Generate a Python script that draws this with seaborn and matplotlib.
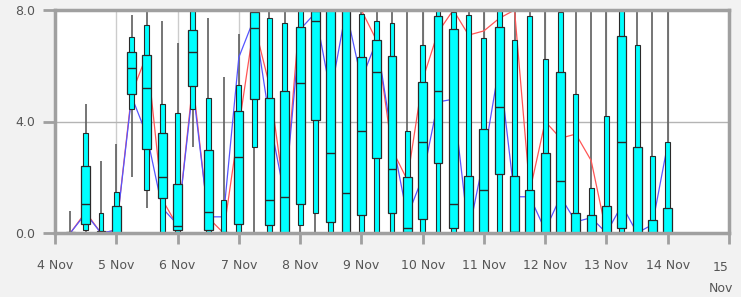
import numpy as np
import pandas as pd
import matplotlib
matplotlib.use("Agg")
import matplotlib.pyplot as plt
import seaborn as sns

# ---- data -------------------------------------------------------------
times = pd.date_range("2010-11-04 06:00", periods=40, freq="6h")
day_labels = ["4 Nov", "5 Nov", "6 Nov", "7 Nov", "8 Nov", "9 Nov", "10 Nov",
              "11 Nov", "12 Nov", "13 Nov", "14 Nov", "15\nNov"]

whisker_lo = [0, 0, 0, 0, 2.0, 0.88, 0, 0, 3.07, 0, 0, 0, 0, 0, 0, 0, 0, 0, 0, 0,
              0, 0, 0, 0, 0, 0, 0, 0, 0, 0, 0, 0, 0, 0, 0, 0, 0, 0, 0, 0]
p10 = [0, 0.1, 0, 0, 4.46, 1.55, 0, 0, 4.46, 0, 0, 0, 3.09, 0, 0, 0.28, 0.7, 0, 0, 0,
       0, 0, 0, 0, 0, 0, 0, 0, 0, 0, 0, 0, 0, 0, 0, 0, 0, 0, 0, 0]
q25 = [0, 0.34, 0, 0, 5.0, 3.0, 1.25, 0.1, 5.28, 0.1, 0, 0.32, 4.8, 0.28, 0, 1.03, 4.06, 0.4, 0, 0.64,
       2.68, 0.7, 0.04, 0.52, 2.5, 0.18, 0, 0, 2.1, 0.04, 0, 0, 0, 0, 0, 0, 0.18, 0, 0, 0]
median = [0, 1.04, 0, 0, 5.92, 5.21, 2.0, 0.24, 6.5, 0.76, 0, 2.74, 7.37, 1.19, 1.28, 5.37, 7.61, 2.88, 1.45, 3.65,
          5.77, 2.3, 0.18, 3.25, 5.1, 1.04, 0.02, 1.53, 4.52, 0.05, 0, 0, 1.85, 0, 0, 0, 3.25, 0, 0, 0]
q75 = [0.03, 2.42, 0.08, 0.98, 6.5, 6.4, 3.58, 1.77, 7.28, 2.98, 0.05, 4.38, 7.94, 4.85, 5.09, 7.39, 7.98, 8.0, 8.0, 6.3,
       6.91, 6.34, 2.0, 5.43, 7.79, 7.31, 2.06, 3.73, 7.39, 2.06, 1.53, 2.88, 5.77, 0.7, 0.64, 0.97, 7.07, 3.09, 0.48, 0.91]
p90 = [0.05, 3.58, 0.73, 1.47, 7.03, 7.47, 4.62, 4.3, 7.95, 4.86, 1.19, 5.31, 8.0, 7.73, 7.55, 8.0, 8.0, 8.0, 8.0, 7.85,
       7.61, 7.55, 3.67, 6.73, 8.0, 7.94, 7.82, 7.0, 8.0, 6.91, 7.79, 6.24, 7.94, 4.97, 1.61, 4.19, 8.0, 6.73, 2.76, 3.25]
whisker_hi = [0.8, 4.64, 2.6, 3.19, 7.82, 8.0, 7.6, 6.82, 8.0, 7.73, 5.59, 7.15, 8.0, 8.0, 8.0, 8.0, 8.0, 8.0, 8.0, 8.0,
              8.0, 8.0, 8.0, 8.0, 8.0, 8.0, 8.0, 8.0, 8.0, 8.0, 8.0, 8.0, 8.0, 8.0, 8.0, 8.0, 8.0, 8.0, 8.0, 8.0]

red_series = [0, 0.75, 0, 0.1, 5.0, 6.4, 1.2, 0.25, 5.4, 0.55, 0, 3.8, 7.5, 5.3, 1.3, 8.0, 8.0, 8.0, 8.0, 8.0,
              6.9, 3.0, 1.9, 5.5, 7.2, 8.0, 7.1, 7.25, 7.7, 8.0, 1.5, 4.0, 3.4, 3.55, 2.6, 0, 0, 0, 0, 0]
blue_series = [0, 0.7, 0, 0.1, 4.9, 3.5, 0.9, 0.3, 5.2, 0.58, 0.58, 6.3, 7.7, 4.1, 1.3, 7.3, 7.9, 5.0, 8.0, 5.5,
               6.9, 3.4, 0.6, 2.0, 4.7, 4.8, 0, 2.7, 6.0, 1.3, 1.3, 0.1, 1.3, 0.4, 0.55, 0, 1.0, 0, 0.3, 3.2]

# ---- figure -----------------------------------------------------------
sns.set_style("white")
plt.rcParams["font.family"] = ["DejaVu Sans"]

x = np.asarray((times - pd.Timestamp("2010-11-04")) / pd.Timedelta(days=1), dtype=float)
lo = np.array(whisker_lo); hi = np.array(whisker_hi)
a10 = np.array(p10); a25 = np.array(q25); a50 = np.array(median)
a75 = np.array(q75); a90 = np.array(p90)

fig = plt.figure(figsize=(7.41, 2.97), dpi=100, facecolor="#f2f2f2")
ax = fig.add_axes([55 / 741, 1 - 233 / 297, (729 - 55) / 741, (233 - 10) / 297])
ax.set_facecolor("white")

# grid
for d in range(0, 12):
    ax.axvline(d, color="#cccccc", lw=1.0, zorder=0)
ax.axhline(4.0, color="#b4b4b4", lw=1.0, zorder=0)

# whiskers
ax.vlines(x, lo, hi, color="#5e5e5e", lw=1.2, zorder=2)

# lines
sns.lineplot(x=x, y=red_series, ax=ax, color="#ff5555", lw=0.9, zorder=2.5)
sns.lineplot(x=x, y=blue_series, ax=ax, color="#5555ff", lw=0.9, zorder=2.6)

# boxes
wide = 0.145
narrow = 0.08
ax.bar(x, a90 - a10, bottom=a10, width=narrow, color="#00ffff",
       edgecolor="#2a2a2a", linewidth=0.8, zorder=3)
ax.bar(x, a75 - a25, bottom=a25, width=wide, color="#00ffff",
       edgecolor="#2a2a2a", linewidth=0.9, zorder=4)
ax.hlines(a50, x - wide / 2, x + wide / 2, color="#2a2a2a", lw=1.0, zorder=5)

ax.set_xlim(0, 11)
ax.set_ylim(0, 8)
ax.set_xticks(range(12))
ax.set_xticklabels(day_labels[:-1] + [""])
ax.set_yticks([0, 4, 8])
ax.set_yticklabels(["0.0", "4.0", "8.0"])
ax.tick_params(axis="x", length=8, width=2, color="#a0a0a0", pad=11,
               labelsize=9, labelcolor="#555555", direction="out", bottom=True)
ax.tick_params(axis="y", length=9, width=2, color="#a0a0a0", pad=5,
               labelsize=9, labelcolor="#555555", direction="out", left=True)
ax.annotate(day_labels[-1], xy=(11, 0), xycoords=("data", "axes fraction"),
            xytext=(-8, -28), textcoords="offset pixels", ha="center", va="top",
            fontsize=9, color="#555555", linespacing=1.75, annotation_clip=False)

for s in ax.spines.values():
    s.set_color("#a0a0a0")
    s.set_linewidth(2.5)
    s.set_zorder(6)
ax.set_xlabel("")
ax.set_ylabel("")

fig.savefig("out.png", dpi=100, facecolor=fig.get_facecolor())
